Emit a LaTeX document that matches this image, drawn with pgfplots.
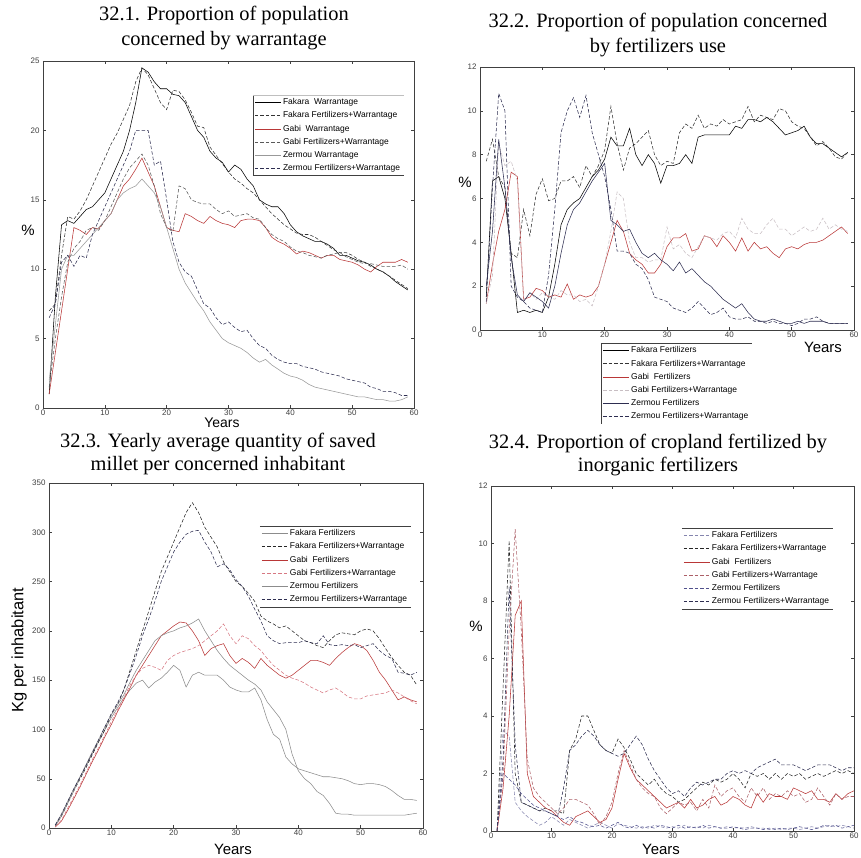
\documentclass[border=0pt]{standalone}
\usepackage{pgfplots}
\pgfplotsset{compat=1.18}
\usepackage{pgfplotstable}
\usepackage{fontspec}
\setmainfont{Liberation Serif}
\setsansfont{Liberation Sans}
\definecolor{mred}{RGB}{185,55,55}
\definecolor{lred}{RGB}{215,120,130}
\definecolor{pgray}{RGB}{200,190,195}
\definecolor{navy}{RGB}{45,45,80}
\definecolor{blu}{RGB}{80,80,140}

\pgfplotstableread{
t FW FFW GW GFW ZW ZFW
1 1.0 7.0 1.0 1.5 2.0 6.5
2 8.0 7.5 4.0 5.0 6.0 7.5
3 13.2 11.0 7.0 8.0 10.0 10.5
4 13.5 13.8 10.0 10.5 11.0 11.0
5 13.3 13.6 13.0 11.5 11.0 10.2
6 13.8 14.2 12.8 12.0 11.5 11.0
7 14.3 15.0 12.5 12.8 12.0 10.8
8 14.5 16.0 13.0 13.0 12.5 12.5
9 15.0 17.0 12.9 12.8 13.0 13.5
10 15.5 18.0 13.5 13.5 13.5 14.5
11 16.5 19.0 14.0 14.5 14.0 15.5
12 17.5 19.8 15.0 15.5 15.0 16.5
13 18.5 20.8 16.0 16.5 15.5 17.5
14 20.0 21.8 16.5 17.3 15.8 18.5
15 22.0 23.5 17.2 17.8 16.0 20.0
16 24.5 24.5 18.0 18.3 16.5 20.0
17 24.2 24.0 17.0 17.5 16.0 20.0
18 23.5 23.0 16.0 16.0 15.5 17.5
19 23.0 22.0 14.5 14.0 14.5 17.8
20 23.0 21.5 13.0 13.0 13.0 15.0
21 22.6 22.9 12.8 12.7 11.5 12.0
22 22.5 22.8 12.7 16.0 10.0 10.5
23 22.0 22.2 14.0 15.8 9.0 9.8
24 21.0 21.3 13.8 15.0 8.3 9.5
25 20.0 20.3 13.5 14.8 7.6 8.5
26 19.5 20.2 13.3 14.7 7.0 7.5
27 18.5 18.8 13.8 14.7 6.2 7.2
28 18.0 18.2 13.5 14.3 5.6 6.5
29 17.7 17.6 13.3 14.0 5.0 6.0
30 17.0 17.0 13.2 14.2 4.7 6.2
31 17.5 16.5 13.0 13.8 4.5 5.8
32 17.2 16.2 13.5 13.9 4.3 5.5
33 16.5 15.8 13.6 14.0 4.0 5.6
34 16.0 15.5 13.6 13.7 3.6 5.0
35 15.0 15.0 13.5 13.6 3.3 4.5
36 14.7 14.5 13.0 13.0 3.5 4.3
37 14.5 14.0 12.3 12.5 3.1 3.8
38 14.5 13.6 12.0 12.2 2.8 3.5
39 14.0 13.2 11.8 12.0 2.5 3.3
40 13.2 12.9 11.5 11.6 2.3 3.2
41 12.7 12.6 11.1 11.3 2.2 3.2
42 12.4 12.5 11.3 11.2 2.0 3.0
43 12.2 12.5 11.2 11.0 1.7 2.9
44 12.0 12.3 11.0 10.9 1.5 2.8
45 12.0 12.0 10.8 10.8 1.4 2.6
46 11.8 11.7 11.0 11.0 1.3 2.5
47 11.5 11.4 11.0 11.1 1.2 2.4
48 11.0 11.2 10.7 11.2 1.1 2.3
49 11.0 11.2 10.6 10.9 1.0 2.1
50 10.8 11.0 10.5 10.7 0.9 2.0
51 10.6 10.7 10.3 10.5 0.8 1.9
52 10.5 10.5 10.0 10.4 0.8 1.8
53 10.3 10.2 9.8 10.4 0.7 1.5
54 10.0 10.0 10.2 10.3 0.6 1.4
55 9.8 9.8 10.5 10.2 0.6 1.2
56 9.5 9.5 10.5 10.2 0.5 1.2
57 9.1 9.2 10.5 10.2 0.5 1.1
58 8.8 8.9 10.7 10.3 0.6 0.9
59 8.5 8.6 10.5 10.0 0.8 0.9
}\tabA

\pgfplotstableread{
t FF FFW GF GFW ZF ZFW
1 1.5 7.7 1.2 1.2 2.0 1.3
2 6.8 8.7 3.0 2.5 4.5 6.5
3 7.0 7.0 4.5 8.5 8.7 10.8
4 6.0 6.5 5.5 7.5 6.5 10.0
5 3.5 3.5 7.2 7.7 3.3 2.0
6 0.8 3.3 7.0 6.8 1.6 1.5
7 0.9 5.5 1.4 1.3 1.3 1.3
8 0.8 4.3 1.5 1.7 1.7 1.0
9 0.9 6.2 1.9 1.4 1.5 0.9
10 0.8 6.9 1.8 1.7 1.3 0.8
11 1.5 5.9 1.5 1.5 1.0 2.5
12 3.0 6.0 1.6 1.4 2.0 5.5
13 4.8 6.8 1.5 1.8 3.5 9.0
14 5.5 6.8 2.1 1.6 4.8 10.0
15 5.8 7.0 1.4 1.6 5.5 10.6
16 6.0 6.5 1.6 1.3 5.8 9.7
17 6.5 7.5 1.5 1.4 6.3 10.7
18 7.0 7.0 1.6 1.1 6.8 9.0
19 7.3 7.5 2.0 2.0 7.2 8.0
20 7.8 8.2 3.0 3.0 7.6 7.0
21 8.8 10.2 4.0 4.5 5.0 5.5
22 8.4 8.5 5.0 6.3 4.8 3.6
23 8.4 7.3 4.5 6.0 4.5 3.6
24 9.2 8.3 3.5 4.0 4.6 3.5
25 8.0 8.5 3.2 3.3 4.0 3.0
26 7.5 8.8 3.0 3.3 3.5 2.8
27 8.0 9.1 2.6 3.1 3.3 2.3
28 7.6 8.0 2.6 3.2 3.5 1.5
29 6.7 7.5 3.0 3.2 3.2 1.4
30 7.5 7.7 3.8 4.7 3.0 1.3
31 7.5 7.6 4.2 3.7 2.7 1.0
32 7.6 9.0 4.2 3.9 3.1 0.9
33 8.0 9.4 4.4 3.5 2.6 0.8
34 7.6 9.2 3.6 3.3 2.8 1.0
35 8.8 9.8 3.7 3.8 2.5 1.3
36 8.9 9.2 4.3 4.3 2.2 1.0
37 8.9 9.4 4.2 4.2 2.0 0.7
38 8.9 9.3 3.8 4.1 1.7 0.8
39 8.9 9.6 4.3 4.4 1.4 1.0
40 8.9 9.4 4.0 4.5 1.2 0.6
41 9.3 9.5 3.6 4.2 1.0 0.5
42 9.2 9.6 4.2 5.1 1.2 0.5
43 9.6 10.2 3.6 4.6 0.8 0.6
44 9.6 9.5 4.0 4.4 0.5 0.4
45 9.5 9.8 3.7 4.4 0.4 0.4
46 9.7 9.7 3.8 4.8 0.4 0.3
47 9.5 9.6 3.5 5.1 0.5 0.4
48 9.2 10.1 3.3 4.6 0.4 0.3
49 8.9 10.0 3.7 4.6 0.3 0.3
50 9.0 9.5 3.8 4.3 0.3 0.2
51 9.1 9.3 3.7 4.5 0.4 0.3
52 9.3 9.2 3.9 4.7 0.3 0.5
53 8.8 8.8 4.0 4.5 0.4 0.5
54 8.5 8.4 4.0 4.6 0.4 0.6
55 8.5 8.6 4.1 5.1 0.4 0.4
56 8.3 8.3 4.3 4.6 0.3 0.3
57 8.1 7.9 4.5 4.8 0.3 0.3
58 7.9 7.8 4.7 4.6 0.3 0.3
59 8.1 8.1 4.4 4.5 0.3 0.3
}\tabB

\pgfplotstableread{
t FF FFW GF GFW ZF ZFW
1 3 2 1 1 2 3
2 14 12 7 8 12 14
3 27 25 18 20 25 27
4 40 38 30 32 38 40
5 52 50 42 44 52 52
6 64 62 55 57 65 64
7 76 75 68 70 78 77
8 88 88 80 82 90 90
9 100 100 93 95 103 103
10 112 115 105 108 115 116
11 122 125 118 120 125 127
12 132 140 130 132 135 140
13 140 160 142 145 148 157
14 147 180 155 155 160 175
15 150 200 165 162 170 195
16 142 220 175 165 180 212
17 148 240 185 163 190 230
18 152 260 195 160 195 250
19 158 275 200 170 198 265
20 165 290 205 175 200 280
21 160 305 209 178 203 290
22 143 320 208 180 205 298
23 155 330 200 182 208 301
24 158 320 190 185 212 302
25 155 305 175 190 200 290
26 155 295 182 195 190 280
27 155 285 185 200 180 265
28 150 270 187 207 172 268
29 143 260 175 195 165 262
30 140 250 167 187 160 252
31 138 245 172 195 155 245
32 138 238 168 192 150 235
33 142 230 162 185 146 222
34 130 215 172 180 140 210
35 110 210 165 172 128 195
36 95 207 160 165 120 190
37 90 203 155 160 112 187
38 72 205 152 155 100 188
39 65 200 155 152 75 188
40 60 195 160 150 58 188
41 58 190 165 147 50 190
42 56 188 170 143 45 188
43 54 185 170 140 37 187
44 52 183 168 137 33 195
45 52 190 165 140 25 186
46 51 196 172 142 15 185
47 50 198 178 138 14 186
48 48 197 183 133 14 185
49 45 196 187 131 13 186
50 44 200 185 131 13 183
51 45 202 180 134 13 185
52 45 200 170 135 13 187
53 44 192 158 136 13 180
54 42 182 150 137 13 175
55 38 173 140 140 13 172
56 33 165 130 137 13 158
57 29 158 133 133 13 157
58 29 155 130 129 14 155
59 28 145 128 126 15 158
}\tabC

\pgfplotstableread{
t FF FFW GF GFW ZF ZFW
1 0 0 0 0 0 0
2 3.5 5.0 1.5 2.0 2.0 2.5
3 3.3 10.1 4.0 7.0 1.8 8.5
4 1.0 2.0 7.5 10.5 1.6 3.0
5 0.7 1.0 8.0 7.0 1.3 1.0
6 0.5 0.9 2.0 2.5 1.1 0.9
7 0.35 0.8 1.2 1.5 0.9 0.8
8 0.2 0.7 1.0 1.2 0.8 0.7
9 0.3 0.8 0.8 1.0 0.7 0.7
10 0.5 0.7 0.7 0.8 0.6 0.6
11 0.35 0.7 0.5 0.6 0.5 0.5
12 0.2 0.6 0.3 0.8 0.4 1.5
13 0.4 2.8 0.2 1.1 0.5 2.8
14 0.3 3.2 0.5 1.1 0.35 3.0
15 0.2 4.0 0.6 1.0 0.3 3.3
16 0.1 4.0 0.7 0.9 0.2 3.5
17 0.2 3.5 0.5 0.6 0.15 3.3
18 0.3 3.0 0.3 0.2 0.2 3.0
19 0.2 2.8 0.4 0.5 0.1 2.8
20 0.1 2.7 0.8 1.0 0.2 2.7
21 0.25 3.2 1.8 2.0 0.3 2.6
22 0.2 2.9 2.7 2.8 0.15 2.7
23 0.15 2.5 2.2 2.3 0.1 3.0
24 0.1 2.0 1.8 1.8 0.2 3.3
25 0.15 1.8 1.6 1.5 0.1 3.0
26 0.1 1.6 1.4 1.3 0.15 2.5
27 0.2 1.8 1.2 1.2 0.1 2.1
28 0.15 1.5 1.0 0.8 0.2 1.8
29 0.1 1.3 0.8 0.6 0.15 1.5
30 0.15 1.2 0.9 0.8 0.1 1.3
31 0.1 1.0 1.0 1.0 0.2 1.4
32 0.2 1.1 0.8 0.9 0.1 1.2
33 0.1 1.3 1.1 1.0 0.15 1.5
34 0.15 1.5 0.8 0.7 0.1 1.7
35 0.1 1.7 0.9 1.1 0.2 1.6
36 0.2 1.6 1.1 0.8 0.1 1.7
37 0.15 1.8 1.2 1.6 0.15 1.8
38 0.1 1.7 0.9 1.2 0.1 1.8
39 0.15 1.8 1.0 1.4 0.1 2.0
40 0.1 2.0 1.2 1.5 0.15 2.1
41 0.12 1.8 1.1 1.2 0.1 2.0
42 0.1 1.5 0.9 1.0 0.05 2.1
43 0.15 2.0 0.8 1.5 0.1 2.0
44 0.1 1.9 1.3 1.2 0.1 2.2
45 0.1 2.0 1.0 1.5 0.05 2.3
46 0.05 1.8 1.3 1.1 0.1 2.4
47 0.1 2.0 1.2 1.3 0.05 2.5
48 0.05 1.8 1.2 1.2 0.1 2.3
49 0.1 2.0 1.1 1.4 0.05 2.3
50 0.1 1.9 1.5 1.2 0.1 2.3
51 0.05 2.0 1.4 1.3 0.15 2.2
52 0.1 1.8 1.3 1.0 0.1 2.1
53 0.15 1.9 1.4 1.1 0.05 2.2
54 0.1 2.0 1.1 1.5 0.1 2.3
55 0.15 1.9 1.1 1.2 0.2 2.3
56 0.2 2.0 1.0 0.9 0.15 2.3
57 0.15 2.1 1.3 1.3 0.2 2.2
58 0.2 2.0 1.1 1.1 0.1 2.1
59 0.15 2.1 1.3 1.2 0.15 2.2
60 0.1 2.0 1.4 1.2 0.2 2.2
}\tabD

\pgfplotsset{
  mstyle/.style={
    scale only axis, anchor=south west,
    xmin=0, xmax=60, xtick={0,10,...,60},
    axis line style={black!75, line width=0.5pt},
    tick style={black!75, line width=0.4pt},
    major tick length=3bp,
    tick align=inside,
    ticklabel style={font=\sffamily\fontsize{8}{9}\selectfont, text=black!75},
    /pgf/number format/assume math mode=true,
    xticklabel style={yshift=1.5bp},
    every axis plot/.append style={line width=0.55pt},
    legend cell align=left,
    legend image code/.code={\draw[##1] (0bp,0bp) -- (26bp,0bp);},
    legend style={font=\sffamily\fontsize{8.5}{9}\selectfont, draw=none, fill=white,
      inner sep=1.5bp, row sep=2bp,
      nodes={inner sep=1.8bp}},
  },
  dsh/.style={dash pattern=on 3.5bp off 2bp},
  lgTB/.style={legend style={append after command={
     (\tikzlastnode.north west) edge[black!75, line width=0.5pt] (\tikzlastnode.north east)
     (\tikzlastnode.south west) edge[black!75, line width=0.5pt] (\tikzlastnode.south east)}}},
  lgLB/.style={legend style={append after command={
     (\tikzlastnode.north west) edge[black!75, line width=0.5pt] (\tikzlastnode.south west)
     (\tikzlastnode.south west) edge[black!75, line width=0.5pt] (\tikzlastnode.south east)
     (\tikzlastnode.north west) edge[black!25, line width=0.4pt] (\tikzlastnode.north east)}}},
  lgLT/.style={legend style={append after command={
     (\tikzlastnode.north west) edge[black!75, line width=0.5pt] (\tikzlastnode.south west)
     (\tikzlastnode.north west) edge[black!75, line width=0.5pt] (\tikzlastnode.north east)}}},
}

\begin{document}
\begin{tikzpicture}
\useasboundingbox (0,0) rectangle (861bp,858bp);

% ---- Panel 32.1
\begin{axis}[mstyle, lgLB, at={(43bp,450bp)}, width=371bp, height=347bp,
  ymin=0, ymax=25, ytick={0,5,...,25},
  legend style={at={(0.566,0.902)}, anchor=north west}]
\addplot[black] table[x=t,y=FW]{\tabA};
\addplot[black!80, dsh] table[x=t,y=FFW]{\tabA};
\addplot[mred] table[x=t,y=GW]{\tabA};
\addplot[black!65, dsh] table[x=t,y=GFW]{\tabA};
\addplot[black!40] table[x=t,y=ZW]{\tabA};
\addplot[navy, dsh] table[x=t,y=ZFW]{\tabA};
\legend{Fakara\ \ Warrantage, Fakara Fertilizers+Warrantage, Gabi\ \ Warrantage, Gabi Fertilizers+Warrantage, Zermou Warrantage, Zermou Fertilizers+Warrantage}
\end{axis}

% ---- Panel 32.2
\begin{axis}[mstyle, lgLT, at={(480bp,528bp)}, width=374bp, height=263bp,
  ymin=0, ymax=12, ytick={0,2,...,12},
  legend style={at={(0.324,-0.05)}, anchor=north west}]
\addplot[black] table[x=t,y=FF]{\tabB};
\addplot[black!80, dsh] table[x=t,y=FFW]{\tabB};
\addplot[mred] table[x=t,y=GF]{\tabB};
\addplot[pgray, dsh] table[x=t,y=GFW]{\tabB};
\addplot[navy] table[x=t,y=ZF]{\tabB};
\addplot[navy, dsh] table[x=t,y=ZFW]{\tabB};
\legend{Fakara Fertilizers, Fakara Fertilizers+Warrantage, Gabi\ \ Fertilizers, Gabi Fertilizers+Warrantage, Zermou Fertilizers, Zermou Fertilizers+Warrantage}
\end{axis}

% ---- Panel 32.3
\begin{axis}[mstyle, lgTB, at={(49bp,30bp)}, width=374bp, height=345bp,
  ymin=0, ymax=350, ytick={0,50,...,350},
  legend style={at={(0.564,0.875)}, anchor=north west}]
\addplot[black!45] table[x=t,y=FF]{\tabC};
\addplot[black!85, dsh] table[x=t,y=FFW]{\tabC};
\addplot[mred] table[x=t,y=GF]{\tabC};
\addplot[lred, dsh] table[x=t,y=GFW]{\tabC};
\addplot[black!45] table[x=t,y=ZF]{\tabC};
\addplot[navy, dsh] table[x=t,y=ZFW]{\tabC};
\legend{Fakara Fertilizers, Fakara Fertilizers+Warrantage, Gabi\ \ Fertilizers, Gabi Fertilizers+Warrantage, Zermou Fertilizers, Zermou Fertilizers+Warrantage}
\end{axis}

% ---- Panel 32.4
\begin{axis}[mstyle, lgTB, at={(491bp,27bp)}, width=363bp, height=345bp,
  ymin=0, ymax=12, ytick={0,2,...,12},
  legend style={at={(0.526,0.878)}, anchor=north west}]
\addplot[blu!70, dsh] table[x=t,y=FF]{\tabD};
\addplot[black!85, dsh] table[x=t,y=FFW]{\tabD};
\addplot[mred] table[x=t,y=GF]{\tabD};
\addplot[lred!80!black, dsh] table[x=t,y=GFW]{\tabD};
\addplot[blu, dsh] table[x=t,y=ZF]{\tabD};
\addplot[navy, dsh] table[x=t,y=ZFW]{\tabD};
\legend{Fakara Fertilizers, Fakara Fertilizers+Warrantage, Gabi\ \ Fertilizers, Gabi Fertilizers+Warrantage, Zermou Fertilizers, Zermou Fertilizers+Warrantage}
\end{axis}

% ---- Titles
\node[align=center, font=\fontsize{20.5}{25.5}\selectfont] at (224bp,830bp) {32.1. Proportion of population\\concerned by warrantage};
\node[align=center, font=\fontsize{20.5}{25.5}\selectfont] at (658bp,823bp) {32.2. Proportion of population concerned\\by fertilizers use};
\node[align=center, font=\fontsize{20.5}{24}\selectfont] at (218bp,404bp) {32.3. Yearly average quantity of saved\\millet per concerned inhabitant};
\node[align=center, font=\fontsize{20.5}{24}\selectfont] at (658bp,403bp) {32.4. Proportion of cropland fertilized by\\inorganic fertilizers};

% ---- Axis labels
\node[font=\sffamily\fontsize{15}{16}\selectfont] at (28bp,628bp) {\%};
\node[font=\sffamily\fontsize{14}{15}\selectfont] at (222bp,435bp) {Years};
\node[font=\sffamily\fontsize{15}{16}\selectfont] at (465bp,676bp) {\%};
\node[font=\sffamily\fontsize{15}{16}\selectfont] at (823bp,511bp) {Years};
\node[font=\sffamily\fontsize{16.5}{17}\selectfont, rotate=90] at (19bp,208bp) {Kg per inhabitant};
\node[font=\sffamily\fontsize{15}{16}\selectfont] at (233bp,9bp) {Years};
\node[font=\sffamily\fontsize{15}{16}\selectfont] at (476bp,232bp) {\%};
\node[font=\sffamily\fontsize{15}{16}\selectfont] at (661bp,9bp) {Years};
\end{tikzpicture}
\end{document}
